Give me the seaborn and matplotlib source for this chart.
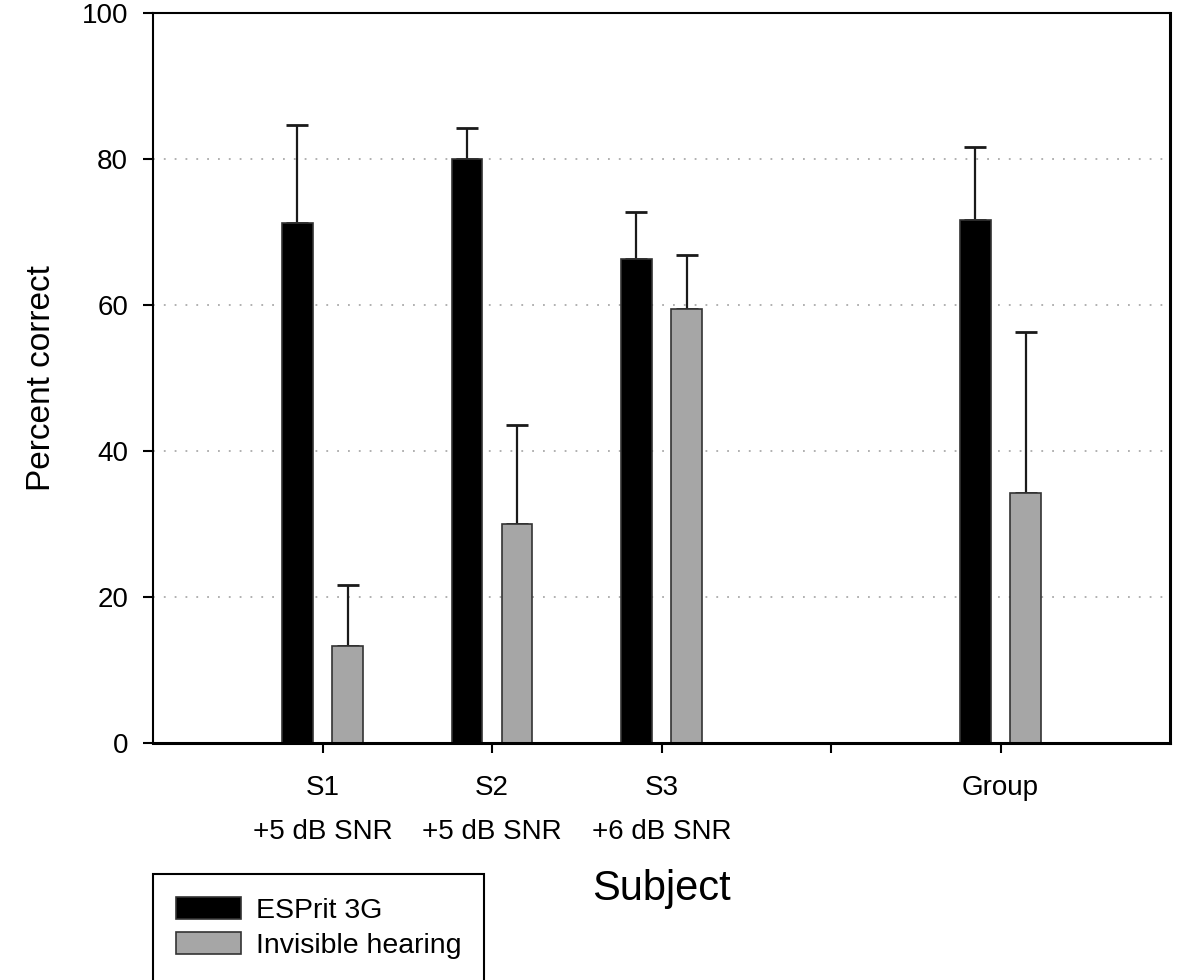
import pandas as pd
import seaborn as sns
import matplotlib.pyplot as plt

# bar heights and upper error (SD)
slots = ['S1', 'S2', 'S3', '', 'Group']
tick_labels = ['S1\n+5 dB SNR', 'S2\n+5 dB SNR', 'S3\n+6 dB SNR', '', 'Group']
subjects = ['S1', 'S2', 'S3', 'Group']
devices = ['ESPrit 3G', 'Invisible hearing']
esprit_mean = [71.3, 80.0, 66.3, 71.7]
esprit_err = [13.3, 4.2, 6.5, 10.0]
invisible_mean = [13.3, 30.0, 59.4, 34.2]
invisible_err = [8.3, 13.5, 7.4, 22.1]
colors = ['#000000', '#a6a6a6']

df = pd.DataFrame({
    'Subject': subjects * 2,
    'Device': [devices[0]] * 4 + [devices[1]] * 4,
    'Percent': esprit_mean + invisible_mean,
    'Err': esprit_err + invisible_err,
})

plt.rcParams['font.family'] = ['Liberation Sans', 'DejaVu Sans']

fig = plt.figure(figsize=(11.81, 9.8), dpi=100)
ax = fig.add_axes([153 / 1181, 1 - 743 / 980, 1017 / 1181, 730 / 980])

sns.barplot(
    ax=ax,
    data=df,
    x='Subject',
    y='Percent',
    hue='Device',
    order=slots,
    hue_order=devices,
    palette=colors,
    saturation=1,
    width=0.59,
    gap=0.39,
    edgecolor='#333333',
    linewidth=1.2,
    errorbar=None,
    zorder=2,
)

# one-sided error bars
for cont, dev in zip(ax.containers, devices):
    xs, ys, es = [], [], []
    for bar in cont:
        h = bar.get_height()
        if pd.isna(h):
            continue
        x = bar.get_x() + bar.get_width() / 2
        subj = slots[int(round(x))]
        row = df[(df.Device == dev) & (df.Subject == subj)]
        xs.append(x)
        ys.append(h)
        es.append(row.Err.values[0])
    ax.errorbar(xs, ys, yerr=[[0] * len(es), es], fmt='none', ecolor='#1a1a1a',
                elinewidth=1.6, capsize=8, capthick=2, zorder=1.5)

ax.set_xlim(-1, 5)
ax.set_ylim(0, 100)
ax.set_yticks([0, 20, 40, 60, 80, 100])
ax.set_xticks(range(len(slots)))
ax.set_xticklabels(tick_labels)
for lab in ax.get_xticklabels():
    lab.set_linespacing(1.9)

ax.grid(axis='y', color='#aaaaaa', linestyle=(0, (1, 5)), linewidth=1.3, zorder=0)
ax.set_axisbelow(True)

ax.tick_params(axis='both', direction='out', length=7, width=1.5, labelsize=20, color='black')
ax.tick_params(axis='x', pad=16)
ax.tick_params(axis='y', pad=11)
for s in ax.spines.values():
    s.set_color('black')
    s.set_linewidth(1.5)
ax.spines['right'].set_linewidth(2.2)
ax.spines['bottom'].set_linewidth(2.2)

ax.set_xlabel('Subject', fontsize=30)
ax.xaxis.set_label_coords(0.5, -0.172)
ax.set_ylabel('Percent correct', fontsize=24)
ax.yaxis.set_label_coords(-0.094, 0.5)

handles, labels = ax.get_legend_handles_labels()
leg = ax.legend(handles, labels, loc='upper left', bbox_to_anchor=(153 / 1181, 1 - 874 / 980),
                bbox_transform=fig.transFigure, frameon=True, fancybox=False, fontsize=20.5,
                handlelength=2.3, handleheight=0.8, handletextpad=0.5, borderpad=0.8,
                borderaxespad=0, labelspacing=0.3, title=None)
leg.get_frame().set_edgecolor('black')
leg.get_frame().set_linewidth(1.5)
leg.get_frame().set_alpha(1)

plt.savefig('out.png', dpi=100)
